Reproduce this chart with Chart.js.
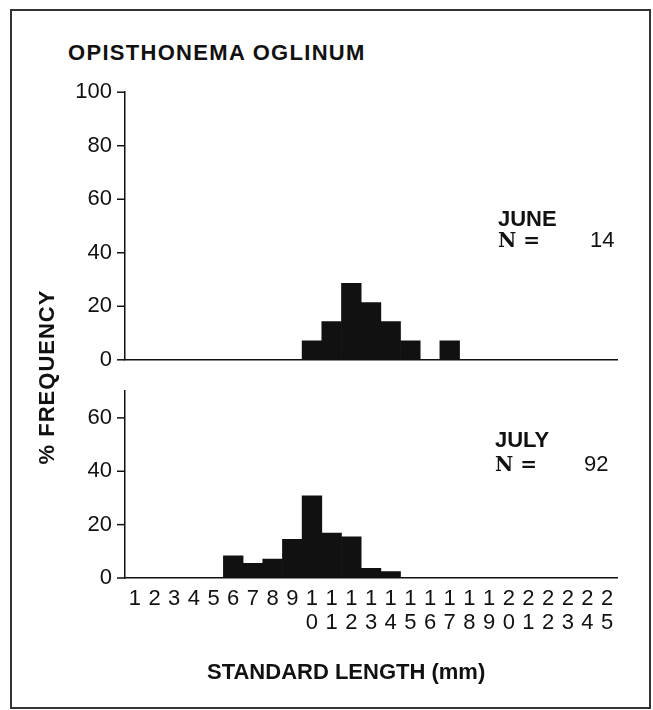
<!DOCTYPE html>
<html>
<head>
<meta charset="utf-8">
<script src="https://cdn.jsdelivr.net/npm/chart.js@4.4.1/dist/chart.umd.min.js"></script>
<style>
  body { margin: 0; background: #fff; font-family: "Liberation Sans", Arial, sans-serif; color: #111; }
  #wrap { position: relative; width: 653px; height: 710px; overflow: hidden; }
  #frame { position: absolute; left: 10px; top: 9px; width: 641px; height: 700px; border: 2px solid #333; box-sizing: border-box; }
  canvas { position: absolute; left: 0; }
  .txt { position: absolute; font-size: 22px; line-height: 22px; white-space: nowrap; }
  .b { font-weight: bold; }
  .serif { font-family: "DejaVu Serif", "Liberation Serif", serif; font-weight: bold; font-size: 20px; }
</style>
</head>
<body>
<div id="wrap">
  <div id="frame"></div>
  <canvas id="juneChart" width="653" height="320" style="top:66px"></canvas>
  <canvas id="julyChart" width="653" height="345" style="top:365px"></canvas>

  <div class="txt b" style="left:68px; top:42px; letter-spacing:1.3px">OPISTHONEMA OGLINUM</div>

  <div class="txt b" style="left:498px; top:208px">JUNE</div>
  <div class="txt serif" style="left:498px; top:229px">N =</div>
  <div class="txt" style="left:590px; top:229px">14</div>

  <div class="txt b" style="left:495px; top:429px">JULY</div>
  <div class="txt serif" style="left:495px; top:453px">N =</div>
  <div class="txt" style="left:584px; top:453px">92</div>

  <div class="txt b" style="left:-103px; top:366px; width:300px; text-align:center; letter-spacing:1px; transform:rotate(-90deg)">% FREQUENCY</div>
  <div class="txt b" style="left:207px; top:661px">STANDARD LENGTH (mm)</div>
</div>

<script>
// standard length classes (mm)
var lengths = [1, 2, 3, 4, 5, 6, 7, 8, 9, 10, 11, 12, 13, 14, 15, 16, 17, 18, 19, 20, 21, 22, 23, 24, 25];

// % frequency per class
var june = [0, 0, 0, 0, 0, 0, 0, 0, 0, 7.1, 14.3, 28.6, 21.4, 14.3, 7.1, 0, 7.1, 0, 0, 0, 0, 0, 0, 0, 0];
var july = [0, 0, 0, 0, 0, 8.3, 5.5, 7.1, 14.5, 30.8, 16.8, 15.4, 3.6, 2.4, 0, 0, 0, 0, 0, 0, 0, 0, 0, 0, 0];

var juneTicks = [0, 20, 40, 60, 80, 100];
var julyTicks = [0, 20, 40, 60];

// two-digit numbers are written one digit above the other
var tickLabels = lengths.map(function(n) {
	var s = String(n);
	return s.length > 1 ? s.split('') : [s];
});

var FONT = "'Liberation Sans', Arial, sans-serif";

// major/minor tick marks on the y axis
var yTicksPlugin = {
	id: 'yTicks',
	afterDraw: function(chart) {
		var scale = chart.scales.y;
		var ctx = chart.ctx;
		ctx.save();
		ctx.strokeStyle = '#111';
		ctx.lineWidth = 1.5;
		scale.ticks.forEach(function(t) {
			var y = scale.getPixelForValue(t.value);
			var len = (t.value % 20 === 0) ? 8 : 4;
			ctx.beginPath();
			ctx.moveTo(scale.right - len, y);
			ctx.lineTo(scale.right, y);
			ctx.stroke();
		});
		ctx.restore();
	}
};

function makeChart(id, values, yMax, majors, showX) {
	return new Chart(document.getElementById(id), {
		type: 'bar',
		data: {
			labels: tickLabels,
			datasets: [{
				data: values,
				backgroundColor: '#111',
				borderWidth: 0,
				categoryPercentage: 1.0,
				barPercentage: 1.0
			}]
		},
		options: {
			responsive: false,
			animation: false,
			layout: { padding: { top: 0, right: 36, bottom: 0, left: 0 } },
			plugins: { legend: { display: false }, tooltip: { enabled: false } },
			scales: {
				x: {
					grid: { display: false, drawTicks: false },
					border: { display: true, color: '#111', width: 1.5 },
					ticks: {
						display: showX,
						autoSkip: false,
						maxRotation: 0,
						padding: 9,
						color: '#111',
						font: { family: FONT, size: 22, lineHeight: 1.1 }
					},
					afterFit: function(s) { s.height = showX ? 132 : 0; }
				},
				y: {
					min: 0,
					max: yMax,
					grid: { display: false, drawTicks: false },
					border: { display: true, color: '#111', width: 1.5 },
					ticks: {
						stepSize: 10,
						padding: 13,
						color: '#111',
						font: { family: FONT, size: 22 },
						callback: function(v) { return majors.indexOf(v) >= 0 ? v : ''; }
					},
					afterFit: function(s) { s.width = 125; }
				}
			}
		},
		plugins: [yTicksPlugin]
	});
}

makeChart('juneChart', june, 100, juneTicks, false);
makeChart('julyChart', july, 70, julyTicks, true);
</script>
</body>
</html>
